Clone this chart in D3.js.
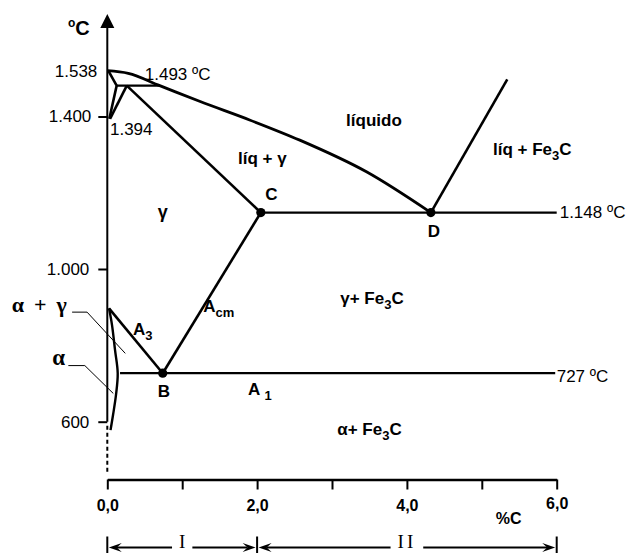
<!DOCTYPE html>
<html><head><meta charset="utf-8">
<script src="https://cdn.jsdelivr.net/npm/d3@7"></script>
<style>body{margin:0;background:#fff}svg{display:block}</style>
</head><body>
<svg id="c" width="632" height="553"></svg>
<script>
// ---------- data (%C, °C) ----------
const xTicks = [0, 1, 2, 3, 4, 5, 6];
const xTickLabels = ["0,0", "", "2,0", "", "4,0", "", "6,0"];
const yTicks = [600, 1000, 1400, 1538];
const yTickLabels = ["600", "1.000", "1.400", "1.538"];

const liquidus = [[0, 1538], [0.28, 1530], [0.70, 1493], [1.24, 1445], [1.90, 1391], [2.57, 1338], [3.46, 1255], [4.32, 1148]];
const deltaBoundary = [[0.013, 1538], [0.125, 1493], [0.027, 1394]];
const gammaDelta = [[0.26, 1493], [0.036, 1394]];
const peritectic = [[0.125, 1493], [0.70, 1493]];
const solidus = [[0.26, 1493], [2.05, 1148]];
const eutectic = [[2.05, 1148], [6.0, 1148]];
const fe3cLiquidus = [[4.32, 1148], [5.34, 1512]];
const acm = [[0.74, 727], [2.05, 1148]];
const a3 = [[0.023, 897], [0.74, 727]];
const eutectoid = [[0.17, 727], [5.98, 727]];
const alphaCurve = [[0.023, 897], [0.063, 853], [0.103, 788], [0.139, 727], [0.116, 670], [0.076, 617], [0.043, 578]];
const points = [["C", 2.05, 1148], ["D", 4.32, 1148], ["B", 0.74, 727]];
const ranges = [{from: 0, to: 2, label: "I"}, {from: 2, to: 6, label: "II"}];

// ---------- scales ----------
const svg = d3.select("#c");
const x = d3.scaleLinear().domain([0, 6]).range([107.3, 556.7]);
const y = d3.scaleLinear().domain([600, 1000, 1400, 1538]).range([421.7, 269, 116.5, 70.7]);
const FONT = "'Liberation Sans', Arial, sans-serif";
const SERIF = "'Liberation Serif', 'Times New Roman', serif";
const line = d3.line().x(d => x(d[0])).y(d => y(d[1]));

// ---------- y axis ----------
const x0 = x(0);
svg.append("line").attr("x1", x0).attr("x2", x0).attr("y1", 26).attr("y2", y(600))
  .attr("stroke", "#000").attr("stroke-width", 2);
svg.append("path").attr("d", `M${x0},14 L${x0 - 7},28 L${x0 + 7},28 Z`).attr("fill", "#000");
svg.append("line").attr("x1", x0).attr("x2", x0).attr("y1", y(600) + 4).attr("y2", 473)
  .attr("stroke", "#000").attr("stroke-width", 2).attr("stroke-dasharray", "4,3");

const yAxis = svg.append("g").attr("transform", `translate(${x0},0)`)
  .call(d3.axisLeft(y).tickValues(yTicks).tickSize(9).tickPadding(7)
    .tickFormat((d, i) => yTickLabels[i]));
yAxis.select(".domain").remove();
yAxis.selectAll(".tick line").attr("stroke-width", 2).attr("opacity", d => d === 1538 ? 0 : 1);
yAxis.selectAll(".tick text").attr("font-family", FONT).attr("font-size", 17).attr("fill", "#000")
  .attr("dx", d => d === 1538 ? 6 : (d === 1400 ? 0 : -2));

// ºC title
const yt = svg.append("text").attr("x", 68).attr("y", 35).attr("font-family", FONT).attr("font-weight", "bold");
yt.append("tspan").attr("font-size", 12).attr("dy", -8).text("o");
yt.append("tspan").attr("font-size", 20).attr("dy", 8).text("C");

// ---------- x axis ----------
const xAxis = svg.append("g").attr("transform", "translate(0,479.5)")
  .call(d3.axisBottom(x).tickValues(xTicks).tickSize(10).tickSizeOuter(0).tickPadding(10)
    .tickFormat((d, i) => xTickLabels[i]));
xAxis.select(".domain").attr("stroke-width", 2.5);
xAxis.selectAll(".tick line").attr("stroke-width", 2);
xAxis.selectAll(".tick text").attr("font-family", FONT).attr("font-size", 16)
  .attr("font-weight", "bold").attr("fill", "#000").attr("dy", d => d === 6 ? "0.6em" : "0.71em");
svg.append("text").attr("x", x(5.36)).attr("y", 524).attr("text-anchor", "middle")
  .attr("font-family", FONT).attr("font-size", 16).attr("font-weight", "bold").text("%C");

// ---------- phase lines ----------
const g = svg.append("g").attr("fill", "none").attr("stroke", "#000").attr("stroke-linejoin", "round");
g.append("path").attr("d", line.curve(d3.curveMonotoneX)(liquidus)).attr("stroke-width", 2.8);
line.curve(d3.curveLinear);
[deltaBoundary, gammaDelta, solidus, fe3cLiquidus, acm, a3].forEach(d =>
  g.append("path").attr("d", line(d)).attr("stroke-width", 2.6));
[peritectic, eutectic, eutectoid].forEach(d =>
  g.append("path").attr("d", line(d)).attr("stroke-width", 2.2));
g.append("path").attr("d", line.curve(d3.curveCatmullRom)(alphaCurve)).attr("stroke-width", 2.4);
line.curve(d3.curveLinear);

svg.selectAll("circle.pt").data(points).join("circle").attr("class", "pt")
  .attr("cx", d => x(d[1])).attr("cy", d => y(d[2])).attr("r", 4.6).attr("fill", "#000");

// ---------- labels ----------
function label(px, T, parts, opts = {}) {
  const t = svg.append("text").attr("x", x(px)).attr("y", y(T))
    .attr("font-family", opts.family || FONT).attr("font-size", opts.size || 17)
    .attr("font-weight", opts.weight || "bold").attr("text-anchor", opts.anchor || "start");
  parts.forEach(p => {
    const s = t.append("tspan").text(p[0]);
    if (p[1] === "sub") s.attr("font-size", 13).attr("dy", 5);
    if (p[1] === "back") s.attr("dy", -5);
  });
  if (opts.len) t.attr("textLength", opts.len).attr("lengthAdjust", "spacing");
  return t;
}
label(3.56, 1375, [["líquido"]], {anchor: "middle"});
label(2.07, 1275, [["líq + γ"]], {anchor: "middle"});
label(2.19, 1181, [["C"]], {anchor: "middle"});
label(4.36, 1084, [["D"]], {anchor: "middle"});
label(5.15, 1299, [["líq + Fe"], ["3", "sub"], ["C", "back"]]);
label(0.74, 1133, [["γ"]], {anchor: "middle", size: 18});
label(3.11, 908, [["γ+ Fe"], ["3", "sub"], ["C", "back"]]);
label(1.28, 887, [["A"], ["cm", "sub"]]);
label(0.343, 827, [["A"], ["3", "sub"]]);
label(0.757, 664, [["B"]], {anchor: "middle"});
label(1.88, 670, [["A "], ["1", "sub"]]);
label(3.07, 565, [["α+ Fe"], ["3", "sub"], ["C", "back"]]);
label(0.50, 1510, [["1.493 ºC"]], {weight: "normal"});
label(0.036, 1351, [["1.394"]], {weight: "normal"});
label(6.04, 1134, [["1.148 ºC"]], {weight: "normal"});
label(6.0, 704, [["727 ºC"]], {weight: "normal"});
label(-0.54, 887, [["α + γ"]], {family: SERIF, size: 22, weight: "bold", anchor: "end", len: 55});
label(-0.565, 748, [["α"]], {family: SERIF, size: 23, weight: "bold", anchor: "end"});

// leader lines
const leaders = [[[-0.47, 887], [-0.27, 887], [0.24, 779]], [[-0.52, 747], [-0.3, 747], [0.08, 674]]];
leaders.forEach(d => svg.append("path").attr("d", line(d)).attr("fill", "none")
  .attr("stroke", "#000").attr("stroke-width", 1));

// ---------- bottom ranges ----------
const by = 547.5;
const bars = Array.from(new Set(ranges.flatMap(r => [r.from, r.to])));
bars.forEach(v => svg.append("line").attr("x1", x(v)).attr("x2", x(v)).attr("y1", 536.5).attr("y2", 553)
  .attr("stroke", "#000").attr("stroke-width", 2));
function arrow(tip, dir) {
  svg.append("path").attr("d",
    `M${tip},${by} L${tip + dir * 13},${by - 4.5} L${tip + dir * 8},${by} L${tip + dir * 13},${by + 4.5} Z`)
    .attr("fill", "#000");
}
ranges.forEach(r => {
  const a = x(r.from) + 1.5, b = x(r.to) - 1.5, m = (x(r.from) + x(r.to)) / 2;
  const t = svg.append("text").attr("x", m).attr("y", 548).attr("text-anchor", "middle")
    .attr("font-family", SERIF).attr("font-size", 19).text(r.label);
  if (r.label.length > 1) t.attr("letter-spacing", 3);
  const w = t.node().getComputedTextLength();
  svg.append("line").attr("x1", a + 8).attr("x2", m - w / 2 - 7).attr("y1", by).attr("y2", by)
    .attr("stroke", "#000").attr("stroke-width", 2);
  svg.append("line").attr("x1", m + w / 2 + 7).attr("x2", b - 8).attr("y1", by).attr("y2", by)
    .attr("stroke", "#000").attr("stroke-width", 2);
  arrow(a, 1); arrow(b, -1);
});
</script>
</body></html>
